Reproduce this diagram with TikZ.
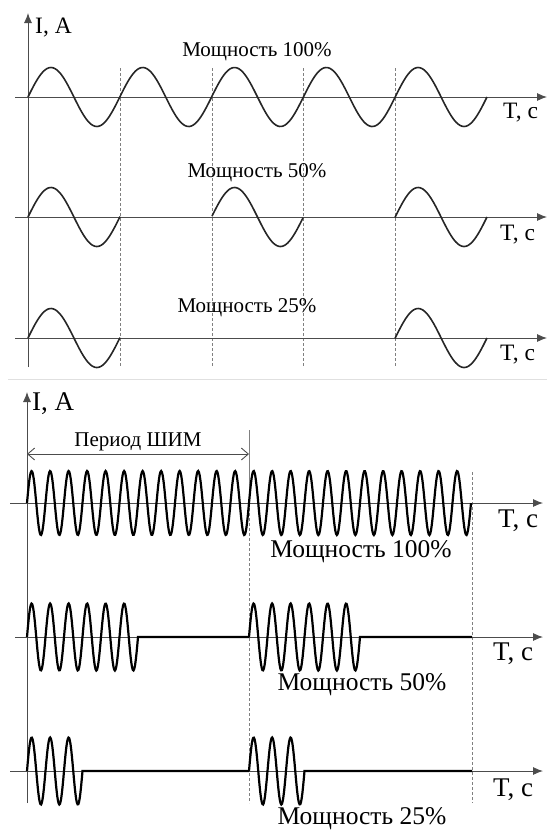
\documentclass[tikz,border=0pt]{standalone}
\usepackage{fontspec}
\setmainfont{Liberation Serif}
\usetikzlibrary{arrows.meta}

\begin{document}
\begin{tikzpicture}[x=1pt,y=-1pt,
    axis/.style={draw=black!70,line width=0.9pt,-{Latex[length=10pt,width=8pt]}},
    guide/.style={draw=black!50,line width=0.9pt,dash pattern=on 3pt off 2pt},
    slow/.style={draw=black!85,line width=1.6pt},
    fast/.style={draw=black,line width=2.2pt},
    smalltext/.style={inner sep=0pt,font=\fontsize{21}{24}\selectfont},
    smallaxis/.style={inner sep=0pt,anchor=west,font=\fontsize{23.5}{26}\selectfont},
    bigtext/.style={inner sep=0pt,font=\fontsize{25.5}{28}\selectfont},
    bigaxis/.style={inner sep=0pt,anchor=west,font=\fontsize{27}{30}\selectfont}]
  \useasboundingbox (0,0) rectangle (547,831);

  \begin{scope}
    \draw[guide] (120,68) -- (120,367);
    \draw[guide] (212,68) -- (212,367);
    \draw[guide] (303,68) -- (303,367);
    \draw[guide] (395,68) -- (395,367);

    \coordinate (ytopA) at (28,367);
    \coordinate (ytopB) at (28,13);
    \draw[axis] (ytopA) -- (ytopB);
    \node[smallaxis] (ytop) at (35,28) {I, A};

    \coordinate (rowAa) at (15,97);
    \coordinate (rowAb) at (547,97);
    \draw[axis] (rowAa) -- (rowAb);
    \draw[slow] plot[domain=28:487,samples=240] (\x,{97-29.5*sin((\x-28)/91.8*360)});
    \node[smalltext] (powA) at (257,52) {Мощность 100\%};
    \node[smallaxis] (timeA) at (503,113) {T, с};

    \coordinate (rowBa) at (15,217);
    \coordinate (rowBb) at (547,217);
    \draw[axis] (rowBa) -- (rowBb);
    \draw[slow] plot[domain=28:120,samples=60] (\x,{217-29.5*sin((\x-28)/91.8*360)});
    \draw[slow] plot[domain=212:303,samples=60] (\x,{217-29.5*sin((\x-28)/91.8*360)});
    \draw[slow] plot[domain=395:487,samples=60] (\x,{217-29.5*sin((\x-28)/91.8*360)});
    \node[smalltext] (powB) at (257,173) {Мощность 50\%};
    \node[smallaxis] (timeB) at (500,235) {T, с};

    \coordinate (rowCa) at (15,338);
    \coordinate (rowCb) at (547,338);
    \draw[axis] (rowCa) -- (rowCb);
    \draw[slow] plot[domain=28:120,samples=60] (\x,{338-29.5*sin((\x-28)/91.8*360)});
    \draw[slow] plot[domain=395:487,samples=60] (\x,{338-29.5*sin((\x-28)/91.8*360)});
    \node[smalltext] (powC) at (247,308) {Мощность 25\%};
    \node[smallaxis] (timeC) at (500,355) {T, с};
  \end{scope}

  \draw[black!12,line width=0.8pt] (8,379) -- (547,379);

  \begin{scope}
    \draw[black!50,line width=0.9pt] (249,430) -- (249,503);
    \draw[guide] (249,503) -- (249,803);
    \draw[guide] (472,472) -- (472,803);

    \coordinate (ybotA) at (27,803);
    \coordinate (ybotB) at (27,392);
    \draw[axis] (ybotA) -- (ybotB);
    \node[bigaxis] (ybot) at (32,404) {I, A};

    \coordinate (pwmL) at (27,454);
    \coordinate (pwmR) at (249,454);
    \draw[black!70,line width=0.9pt,{Straight Barb[length=7pt,width=12pt]}-{Straight Barb[length=7pt,width=12pt]}] (pwmL) -- (pwmR);
    \node[smalltext] (pwm) at (138,442) {Период ШИМ};

    \coordinate (rowDa) at (10,503);
    \coordinate (rowDb) at (543,503);
    \draw[axis] (rowDa) -- (rowDb);
    \draw[fast] plot[domain=27:471,samples=600] (\x,{503-32*sin((\x-27)/18.5*360)});
    \node[bigtext] (powD) at (361,552) {Мощность 100\%};
    \node[bigaxis] (timeD) at (498,521) {T, с};

    \coordinate (rowEa) at (15,637);
    \coordinate (rowEb) at (543,637);
    \draw[axis] (rowEa) -- (rowEb);
    \draw[fast] plot[domain=27:138,samples=150] (\x,{637-33.5*sin((\x-27)/18.5*360)}) -- (249,637);
    \draw[fast] plot[domain=249:360,samples=150] (\x,{637-33.5*sin((\x-249)/18.5*360)}) -- (472,637);
    \node[bigtext] (powE) at (362,685) {Мощность 50\%};
    \node[bigaxis] (timeE) at (493,654) {T, с};

    \coordinate (rowFa) at (10,771);
    \coordinate (rowFb) at (543,771);
    \draw[axis] (rowFa) -- (rowFb);
    \draw[fast] plot[domain=27:82.5,samples=80] (\x,{771-33.5*sin((\x-27)/18.5*360)}) -- (249,771);
    \draw[fast] plot[domain=249:304.5,samples=80] (\x,{771-33.5*sin((\x-249)/18.5*360)}) -- (472,771);
    \node[bigtext] (powF) at (362,819) {Мощность 25\%};
    \node[bigaxis] (timeF) at (493,790) {T, с};
  \end{scope}
\end{tikzpicture}
\end{document}
